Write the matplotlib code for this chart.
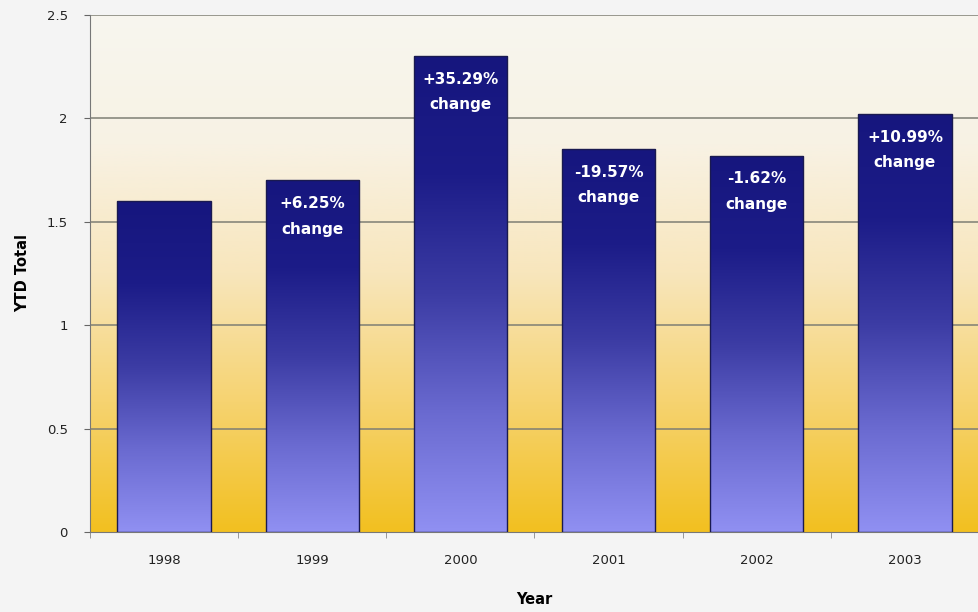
import numpy as np
import matplotlib
matplotlib.use("Agg")
import matplotlib.pyplot as plt
from matplotlib.colors import LinearSegmentedColormap

# data
years = ["1998", "1999", "2000", "2001", "2002", "2003"]
ytd_total = [1.60, 1.70, 2.30, 1.85, 1.82, 2.02]
change_labels = ["", "+6.25%\nchange", "+35.29%\nchange", "-19.57%\nchange",
                 "-1.62%\nchange", "+10.99%\nchange"]
y_ticks = [0, 0.5, 1, 1.5, 2, 2.5]
y_tick_labels = ["0", "0.5", "1", "1.5", "2", "2.5"]

fig = plt.figure(figsize=(9.79, 6.12), dpi=100)
fig.patch.set_facecolor("#F4F4F4")
ax = fig.add_axes([90 / 979, 80 / 612, 1 - 90 / 979, (532 - 15) / 612])

x = np.arange(len(years))
ax.set_xlim(-0.5, len(years) - 0.5)
ax.set_ylim(0, 2.5)

# fondo con degradado (crema arriba, dorado abajo)
bg_cmap = LinearSegmentedColormap.from_list(
    "bg", ["#F2C020", "#F6D370", "#F8E6BC", "#F8F2E4", "#F7F6EF"])
grad = np.linspace(0, 1, 256).reshape(-1, 1)
ax.imshow(grad, aspect="auto", cmap=bg_cmap, origin="lower",
          extent=[-0.5, len(years) - 0.5, 0, 2.5], zorder=0)

for t in y_ticks[1:]:
    ax.axhline(t, color="#7E7E74", lw=1.1, zorder=1)

# barras con degradado (azul oscuro arriba, lavanda abajo)
bar_cmap = LinearSegmentedColormap.from_list(
    "bar", ["#9090F2", "#6A6AD0", "#3C3CA4", "#1C1C88", "#16167E"])
bars = ax.bar(x, ytd_total, width=0.63, color="none",
              edgecolor="#1A1A50", lw=1.0, zorder=3)
for b in bars:
    bx, by = b.get_x(), b.get_y()
    bw, bh = b.get_width(), b.get_height()
    im = ax.imshow(grad, aspect="auto", cmap=bar_cmap, origin="lower",
                   extent=[bx, bx + bw, by, by + bh], zorder=2)
    im.set_clip_path(b)

for xi, val, lab in zip(x, ytd_total, change_labels):
    if lab:
        ax.annotate(lab, (xi, val), xytext=(0, -11), textcoords="offset points",
                    ha="center", va="top", color="white", fontsize=11,
                    fontweight="bold", linespacing=1.9, zorder=4)

ax.set_xticks(x)
ax.set_xticklabels(years, fontsize=9.5, color="#222222")
ax.set_xticks(np.arange(-0.5, len(years), 1), minor=True)
ax.tick_params(axis="x", which="major", length=0, pad=16)
ax.tick_params(axis="x", which="minor", length=4, color="#888888")
ax.set_yticks(y_ticks)
ax.set_yticklabels(y_tick_labels, fontsize=9.5, color="#222222")
ax.tick_params(axis="y", length=4, color="#666666", pad=12)

ax.set_xlabel("Year", fontsize=10.5, fontweight="bold", labelpad=18)
ax.set_ylabel("YTD Total", fontsize=10.5, fontweight="bold", labelpad=12)

for s in ["top", "right"]:
    ax.spines[s].set_visible(False)
ax.spines["left"].set_color("#777777")
ax.spines["bottom"].set_color("#777777")

fig.savefig("out.png", dpi=100, facecolor=fig.get_facecolor())
